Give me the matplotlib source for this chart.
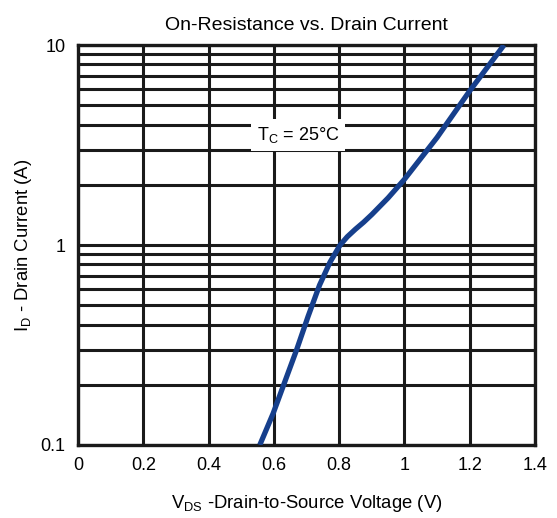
import matplotlib.pyplot as plt
from matplotlib.ticker import FixedLocator, NullFormatter, LogLocator

plt.rcParams['font.family'] = ['Liberation Sans', 'DejaVu Sans']
plt.rcParams['mathtext.default'] = 'regular'

# values
vds = [0.557, 0.598, 0.635, 0.670, 0.705, 0.740, 0.772, 0.803, 0.825,
       0.85, 0.875, 0.90, 0.95, 1.0, 1.1, 1.2, 1.305]
i_d = [0.1, 0.144, 0.21, 0.30, 0.44, 0.63, 0.82, 1.0, 1.1,
       1.2, 1.3, 1.42, 1.72, 2.13, 3.45, 5.9, 10.0]

x_ticks = [0, 0.2, 0.4, 0.6, 0.8, 1.0, 1.2, 1.4]
x_labels = ['0', '0.2', '0.4', '0.6', '0.8', '1', '1.2', '1.4']
y_ticks = [0.1, 1, 10]
y_labels = ['0.1', '1', '10']

fig = plt.figure(figsize=(5.57, 5.18), dpi=100)
ax = fig.add_axes([0.140, 0.141, 0.8205, 0.772])

ax.set_yscale('log')
ax.set_xlim(0, 1.4)
ax.set_ylim(0.1, 10)

ax.xaxis.set_major_locator(FixedLocator(x_ticks))
ax.set_xticklabels(x_labels)
ax.yaxis.set_major_locator(FixedLocator(y_ticks))
ax.set_yticklabels(y_labels)
ax.yaxis.set_minor_locator(LogLocator(base=10, subs=range(2, 10)))
ax.yaxis.set_minor_formatter(NullFormatter())

ax.grid(True, which='both', color='#1a1a1a', linewidth=2.2)
ax.tick_params(which='both', length=0, labelsize=13, pad=9)
for s in ax.spines.values():
    s.set_linewidth(2.4)
    s.set_color('#1a1a1a')

ax.plot(vds, i_d, color='#163f8c', linewidth=3.8, solid_capstyle='butt',
        solid_joinstyle='round', zorder=3)

ax.text(0.675, 3.55, 'T$_C$ = 25°C', fontsize=13, ha='center', va='center',
        bbox=dict(facecolor='white', edgecolor='none', pad=4), zorder=4)

ax.set_title('On-Resistance vs. Drain Current', fontsize=14, pad=11)
ax.set_xlabel('V$_{DS}$ -Drain-to-Source Voltage (V)', fontsize=13.3, labelpad=13)
ax.set_ylabel('I$_D$ - Drain Current (A)', fontsize=13.3, labelpad=5)

fig.savefig('out.png', dpi=100)
